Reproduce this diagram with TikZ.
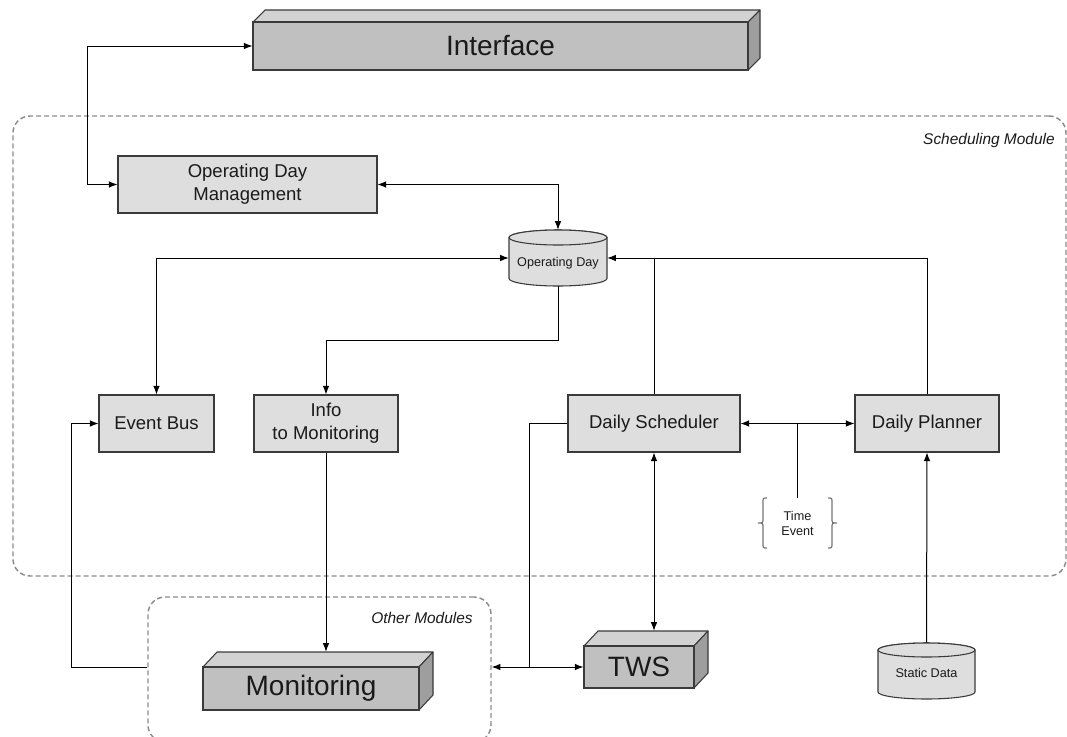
\documentclass[tikz,border=0pt]{standalone}
\usepackage{fontspec}
\setmainfont{Liberation Sans}
\usetikzlibrary{arrows.meta,fit}
\definecolor{boxfill}{HTML}{DEDEDE}
\definecolor{boxline}{HTML}{3A3A3A}
\definecolor{frontfill}{HTML}{C0C0C0}
\definecolor{topfill}{HTML}{D2D2D2}
\definecolor{sidefill}{HTML}{9E9E9E}
\definecolor{dashgray}{HTML}{8C8C8C}
\definecolor{bracegray}{HTML}{777777}
\definecolor{txt}{HTML}{1A1A1A}
\begin{document}
\begin{tikzpicture}[x=0.75pt,y=-0.75pt,
  >={Latex[length=6.5pt,width=5pt]},
  box/.style={draw=boxline, fill=boxfill, line width=0.8pt, inner sep=0pt},
  boxtext/.style={inner sep=0pt, align=center, text=txt, font=\fontsize{13.9}{17.2}\selectfont},
  front/.style={draw=boxline, fill=frontfill, line width=0.8pt, inner sep=0pt},
  bigtext/.style={inner sep=0pt, text=txt, font=\fontsize{21}{25}\selectfont},
  face3d/.style={draw=boxline, line width=0.8pt, line join=round},
  cylshape/.style={draw=boxline, fill=boxfill, line width=0.8pt},
  cyltext/.style={inner sep=0pt, align=center, text=txt, font=\fontsize{9.5}{11.3}\selectfont},
  region/.style={draw=dashgray, line width=1.1pt, dash pattern=on 3.75pt off 2.25pt, rounded corners=12.75pt, inner sep=0pt},
  regionlab/.style={anchor=east, inner sep=0pt, text=txt, font=\fontsize{11.6}{14}\selectfont\itshape},
  conn/.style={draw=black, line width=0.75pt},
  bracepath/.style={draw=bracegray, line width=0.9pt}
]
\useasboundingbox (0,0) rectangle (1067,736);

% regions
\node[region, fit={(13,116)(1066,576)}] (sm) {};
\node[regionlab] (smlab) at (1055,140) {Scheduling Module};
\node[region, fit={(148,597)(491,742)}] (om) {};
\node[regionlab] (omlab) at (473,618) {Other Modules};

% Interface 3D box
\filldraw[face3d, fill=topfill] (253,22) -- (265,10) -- (760,10) -- (748,22) -- cycle;
\filldraw[face3d, fill=sidefill] (748,22) -- (760,10) -- (760,58) -- (748,70) -- cycle;
\node[front, fit={(253,22)(748,70)}] (iface) {};
\node[bigtext] (ifacetxt) at (iface.center) {Interface};

% Monitoring 3D box
\filldraw[face3d, fill=topfill] (203,667) -- (217,652) -- (433,652) -- (419,667) -- cycle;
\filldraw[face3d, fill=sidefill] (419,667) -- (433,652) -- (433,695) -- (419,710) -- cycle;
\node[front, fit={(203,667)(419,710)}] (mon) {};
\node[bigtext] (montxt) at (mon.center) {Monitoring};
\node[inner sep=0pt, fit={(217,652)(433,710)}] (monall) {};

% TWS 3D box
\filldraw[face3d, fill=topfill] (584,646) -- (598,631) -- (708,631) -- (694,646) -- cycle;
\filldraw[face3d, fill=sidefill] (694,646) -- (708,631) -- (708,673) -- (694,688) -- cycle;
\node[front, fit={(584,646)(694,688)}] (tws) {};
\node[bigtext] (twstxt) at (tws.center) {TWS};
\node[inner sep=0pt, fit={(598,631)(708,688)}] (twsall) {};

% Operating Day cylinder
\draw[cylshape] (509,237.5) -- (509,278.5) arc[start angle=180,end angle=0,x radius=49,y radius=7.5]
  -- (607,237.5) arc[start angle=0,end angle=-180,x radius=49,y radius=7.5] -- cycle;
\draw[cylshape] (558,237.5) ellipse[x radius=49,y radius=7.5];
\node[inner sep=0pt, fit={(509,230)(607,286)}] (opday) {};
\node[cyltext] (opdaytxt) at (558,263) {Operating Day};

% Static Data cylinder
\draw[cylshape] (878,650) -- (878,692) arc[start angle=180,end angle=0,x radius=48.5,y radius=7]
  -- (975,650) arc[start angle=0,end angle=-180,x radius=48.5,y radius=7] -- cycle;
\draw[cylshape] (926.5,650) ellipse[x radius=48.5,y radius=7];
\node[inner sep=0pt, fit={(878,643)(975,699)}] (sd) {};
\node[cyltext] (sdtxt) at (926.5,673) {Static Data};

% boxes
\node[box, fit={(118,156)(377,213)}] (odm) {};
\node[boxtext] (odmtxt) at (odm.center) {Operating Day\\Management};
\node[box, fit={(99,395)(214,452)}] (evbus) {};
\node[boxtext] (evbustxt) at (evbus.center) {Event Bus};
\node[box, fit={(254,395)(398,452)}] (info) {};
\node[boxtext] (infotxt) at (info.center) {Info\\to Monitoring};
\node[box, fit={(568,395)(740,452)}] (ds) {};
\node[boxtext] (dstxt) at (ds.center) {Daily Scheduler};
\node[box, fit={(855,395)(999,452)}] (dp) {};
\node[boxtext] (dptxt) at (dp.center) {Daily Planner};

% Time Event
\draw[bracepath] (767,498) .. controls (763,498) .. (763,503) -- (763,518) .. controls (763,523) .. (758,523)
  .. controls (763,523) .. (763,528) -- (763,543) .. controls (763,548) .. (767,548);
\draw[bracepath] (828,498) .. controls (832,498) .. (832,503) -- (832,518) .. controls (832,523) .. (837,523)
  .. controls (832,523) .. (832,528) -- (832,543) .. controls (832,548) .. (828,548);
\node[inner sep=0pt, fit={(758,498)(837,548)}] (te) {};
\node[cyltext] (tetxt) at (te.center) {Time\\Event};

% connectors
\draw[conn,<->] (odm.west) -- ++(-30,0) |- (iface.west);
\draw[conn,<->] (odm.east) -| (opday.north);
\draw[conn,<->] (opday.west) -| (evbus.north);
\draw[conn,->] (opday.south) -- ++(0,54) -| (info.north);
\draw[conn,->] (dp.north) |- (opday.east);
\draw[conn] (ds.north) -- (ds.north |- opday.east);
\draw[conn,<->] (ds.east) -- (dp.west) coordinate[midway] (tj);
\draw[conn] (tj) -- (tj |- te.north);
\draw[conn,->] (om.west |- tws.west) -- ++(-76,0) |- (evbus.west);
\draw[conn,->] (info.south) -- (info.south |- monall.north);
\draw[conn] (ds.west) -- ++(-38,0) coordinate (dsl) -- (dsl |- tws.west);
\draw[conn,<->] (om.east |- tws.west) -- (tws.west);
\draw[conn,<->] (ds.south) -- (ds.south |- twsall.north);
\draw[conn,->] (sd.north) -- (dp.south);
\end{tikzpicture}
\end{document}
